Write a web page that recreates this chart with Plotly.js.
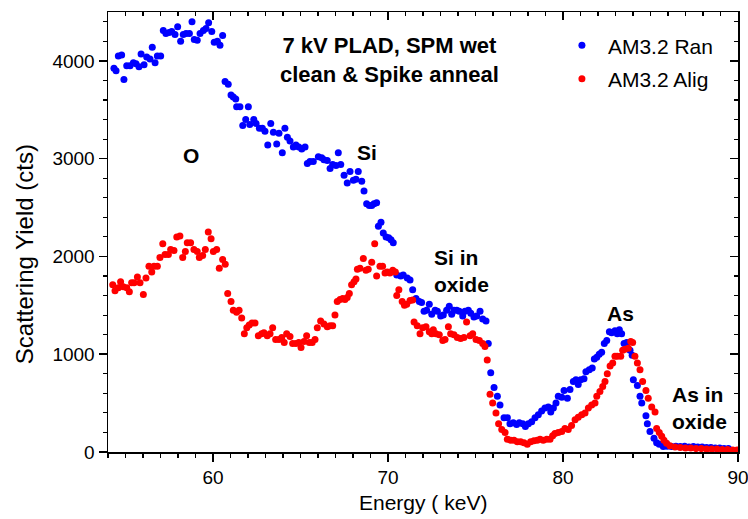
<!DOCTYPE html>
<html>
<head>
<meta charset="utf-8">
<script src="https://cdn.plot.ly/plotly-3.0.1.min.js"></script>
<style>html,body{margin:0;padding:0;background:#fff;}#chart{width:748px;height:519px;}</style>
</head>
<body>
<div id="chart"></div>
<script>
// AM3.2 Ran (random) spectrum
var ranEnergy = [54.34,54.46,54.59,54.78,54.91,55.07,55.26,55.45,55.60,55.77,55.89,56.06,56.21,56.40,56.53,56.69,56.82,57.01,57.16,57.31,57.49,57.64,57.83,57.98,58.15,58.30,58.46,58.65,58.80,58.93,59.10,59.26,59.45,59.60,59.75,59.93,60.07,60.25,60.40,60.55,60.69,60.87,61.03,61.16,61.30,61.35,61.54,61.70,61.87,62.02,62.10,62.33,62.46,62.65,62.82,62.97,63.13,63.30,63.45,63.64,63.77,63.96,64.11,64.25,64.40,64.59,64.74,64.90,65.07,65.26,65.39,65.54,65.73,66.02,66.21,66.34,66.53,66.69,66.84,67.03,67.16,67.30,67.49,67.67,67.83,68.02,68.17,68.30,68.50,68.63,68.78,68.93,69.07,69.20,69.35,69.45,69.60,69.73,69.89,70.04,70.17,70.30,70.50,70.73,70.87,71.10,71.26,71.41,71.60,71.79,71.92,72.06,72.21,72.36,72.50,72.69,72.82,73.01,73.16,73.35,73.50,73.64,73.77,73.93,74.07,74.27,74.40,74.59,74.73,74.91,75.07,75.26,75.41,75.60,75.73,75.87,76.06,76.25,76.40,76.63,76.82,76.97,77.16,77.35,77.50,77.70,77.85,78.02,78.21,78.40,78.59,78.78,78.97,79.16,79.30,79.45,79.60,79.73,79.93,80.06,80.25,80.40,80.59,80.74,80.87,81.01,81.20,81.31,81.50,81.67,81.79,81.93,82.07,82.21,82.36,82.50,82.65,82.78,82.97,83.10,83.22,83.35,83.49,83.64,83.83,83.95,84.02,84.25,84.40,84.50,84.74,84.82,84.97,85.20,85.35,85.50,85.73,85.95,86.20,86.45,86.70,86.95,87.20,87.45,87.70,87.95,88.20,88.45,88.70,88.95,89.20,89.45,89.70,89.95];
var ranCounts = [3925,3900,4050,4060,3810,3950,3950,3980,3970,3940,4070,3960,4040,4020,4140,3980,4050,4050,4310,4280,4290,4300,4270,4350,4200,4270,4280,4280,4400,4220,4210,4280,4310,4330,4390,4300,4190,4200,4160,4260,3790,3760,3650,3630,3610,3530,3530,3340,3400,3530,3350,3400,3360,3310,3310,3280,3140,3360,3270,3150,3260,3060,3310,3220,3180,3120,3140,3120,3100,3120,2950,2970,2970,3020,3010,2990,2980,2900,2940,2930,3060,2940,2830,2750,2870,2780,2790,2870,2770,2670,2540,2520,2520,2540,2550,2310,2350,2240,2200,2190,2170,2140,1810,1800,1810,1780,1760,1660,1570,1540,1530,1440,1450,1510,1410,1450,1440,1390,1400,1450,1490,1410,1450,1450,1440,1390,1440,1450,1420,1380,1390,1440,1360,1340,1110,810,660,570,480,350,350,290,300,280,300,290,260,290,310,350,380,420,450,460,410,450,500,570,560,630,550,640,720,740,690,740,750,820,840,860,950,970,1000,1020,1110,1140,1230,1220,1240,1210,1250,1210,1110,1120,1040,990,740,680,570,500,370,290,210,140,95,80,55,60,55,60,55,60,50,55,50,50,45,45,40,40,35,35];

// AM3.2 Alig (aligned) spectrum
var aligEnergy = [54.27,54.40,54.59,54.72,54.87,55.07,55.22,55.35,55.49,55.68,55.83,56.02,56.17,56.34,56.50,56.63,56.82,56.97,57.13,57.26,57.45,57.58,57.77,57.93,58.11,58.27,58.42,58.53,58.72,58.91,59.10,59.22,59.41,59.56,59.73,59.89,60.02,60.21,60.36,60.55,60.70,60.84,61.03,61.16,61.35,61.49,61.64,61.79,61.93,62.07,62.23,62.40,62.59,62.78,62.91,63.10,63.26,63.41,63.58,63.77,63.93,64.07,64.21,64.40,64.55,64.74,64.90,65.03,65.20,65.35,65.50,65.67,65.83,65.96,66.15,66.34,66.53,66.69,66.84,66.97,67.10,67.26,67.41,67.54,67.67,67.79,67.92,68.06,68.17,68.25,68.40,68.59,68.74,68.87,69.07,69.24,69.35,69.54,69.69,69.83,69.96,70.11,70.27,70.42,70.50,70.62,70.81,70.94,71.07,71.26,71.41,71.49,71.67,71.83,71.98,72.17,72.36,72.50,72.59,72.74,72.93,73.13,73.26,73.45,73.58,73.77,73.96,74.15,74.34,74.49,74.69,74.84,75.03,75.22,75.41,75.54,75.67,75.83,75.98,76.17,76.32,76.50,76.69,76.82,77.01,77.20,77.39,77.58,77.77,77.96,78.15,78.34,78.53,78.69,78.87,79.07,79.26,79.41,79.54,79.73,79.93,80.11,80.30,80.49,80.69,80.87,81.07,81.26,81.45,81.64,81.83,81.93,82.11,82.27,82.40,82.53,82.69,82.84,82.97,83.10,83.30,83.41,83.54,83.73,83.87,83.98,84.11,84.25,84.40,84.55,84.74,84.87,85.07,85.26,85.35,85.50,85.64,85.77,85.92,86.11,86.40,86.70,87.00,87.30,87.60,87.90,88.20,88.50,88.80,89.10,89.40,89.70,89.95];
var aligCounts = [1710,1650,1680,1740,1690,1680,1640,1730,1730,1790,1730,1610,1780,1900,1840,1900,1900,1990,2130,2020,2020,2070,2060,2200,2210,1990,2050,2140,2140,2070,2050,1990,2010,2070,2250,2180,2050,2070,1880,1970,1920,1620,1540,1450,1430,1450,1370,1210,1270,1300,1320,1320,1190,1210,1220,1190,1210,1270,1150,1150,1170,1120,1210,1180,1110,1110,1120,1070,1130,1190,1120,1120,1150,1270,1340,1310,1280,1290,1290,1400,1540,1560,1570,1560,1580,1620,1710,1740,1770,1870,1880,1980,1860,1870,1940,2130,1800,1900,1900,1830,1840,1830,1860,1840,1600,1660,1540,1500,1510,1550,1555,1330,1290,1210,1270,1280,1230,1210,1250,1210,1200,1140,1150,1280,1210,1200,1170,1160,1170,1330,1190,1210,1150,1140,1110,1080,940,590,500,400,290,230,200,130,120,120,105,105,95,80,105,115,120,130,120,130,130,165,190,200,210,240,230,270,330,355,380,400,450,480,500,570,620,670,720,800,880,910,980,980,980,1040,1050,1060,1130,1120,980,910,840,720,630,550,460,410,240,200,160,120,90,65,50,45,40,40,35,35,30,30,30,25,25,20,20];

var seriesNames = ["AM3.2 Ran", "AM3.2 Alig"];
var seriesColors = ["#0000ff", "#ff0000"];

var FONT = "Liberation Sans, Arial, sans-serif";

var traces = [
  {x: ranEnergy, y: ranCounts, type: "scatter", mode: "markers", name: seriesNames[0],
   marker: {color: seriesColors[0], size: 7}, legendgroup: "a"},
  {x: aligEnergy, y: aligCounts, type: "scatter", mode: "markers", name: seriesNames[1],
   marker: {color: seriesColors[1], size: 7}, legendgroup: "b"},
  {x: [], y: [], xaxis: "x2", yaxis: "y2", showlegend: false, type: "scatter", mode: "markers"}
];

var axisCommon = {showgrid: false, zeroline: false, showline: true, linecolor: "#000", linewidth: 1.5,
  tickcolor: "#000", tickwidth: 1.5, ticklabeloverflow: "allow",
  tickfont: {family: FONT, size: 19, color: "#000"}};

var layout = {
  width: 748, height: 519,
  margin: {l: 108, r: 10, t: 12, b: 67},
  paper_bgcolor: "#fff", plot_bgcolor: "#fff",
  font: {family: FONT, color: "#000"},
  showlegend: true,
  legend: {x: 0.711, y: 0.97, xanchor: "left", yanchor: "top", bgcolor: "rgba(0,0,0,0)",
    itemwidth: 42,
    font: {family: FONT, size: 21, color: "#000"}, traceorder: "grouped", tracegroupgap: 3},
  xaxis: Object.assign({}, axisCommon, {range: [54, 90], autorange: false, dtick: 10, tick0: 0, ticks: "outside", ticklen: 8,
    minor: {dtick: 1, ticks: "outside", ticklen: 4, tickcolor: "#000", tickwidth: 1.2}}),
  yaxis: Object.assign({}, axisCommon, {range: [0, 4500], autorange: false, dtick: 1000, tick0: 0, ticks: "outside", ticklen: 8,
    minor: {dtick: 200, ticks: "outside", ticklen: 4, tickcolor: "#000", tickwidth: 1.2}}),
  xaxis2: Object.assign({}, axisCommon, {overlaying: "x", side: "top", matches: "x", anchor: "y2",
    ticks: "inside", ticklen: 8, dtick: 10, tick0: 0, showticklabels: false,
    minor: {dtick: 1, ticks: "inside", ticklen: 4, tickcolor: "#000", tickwidth: 1.2}}),
  yaxis2: Object.assign({}, axisCommon, {overlaying: "y", side: "right", matches: "y", anchor: "x2",
    ticks: "inside", ticklen: 8, dtick: 1000, tick0: 0, showticklabels: false,
    minor: {dtick: 200, ticks: "inside", ticklen: 4, tickcolor: "#000", tickwidth: 1.2}}),
  annotations: [
    {x: 0.5, y: -0.114, xref: "paper", yref: "paper", xanchor: "center", yanchor: "middle",
     text: "Energy ( keV)", showarrow: false, font: {family: FONT, size: 21, color: "#000"}},
    {x: -0.133, y: 0.45, xref: "paper", yref: "paper", xanchor: "center", yanchor: "middle",
     text: "Scattering Yield (cts)", showarrow: false, textangle: -90, font: {family: FONT, size: 24, color: "#000"}},
    {x: 70.1, y: 4010, xref: "x", yref: "y", text: "<b>7 kV PLAD, SPM wet<br>clean &amp; Spike anneal</b>", showarrow: false,
     font: {family: FONT, size: 22, color: "#000"}, align: "center"},
    {x: 58.74, y: 3028, xref: "x", yref: "y", text: "<b>O</b>", showarrow: false, font: {family: FONT, size: 21, color: "#000"}},
    {x: 68.78, y: 3066, xref: "x", yref: "y", text: "<b>Si</b>", showarrow: false, font: {family: FONT, size: 21, color: "#000"}},
    {x: 74.2, y: 1852, xref: "x", yref: "y", text: "<b>Si in<br>oxide</b>", showarrow: false, font: {family: FONT, size: 21, color: "#000"}, align: "left"},
    {x: 83.29, y: 1412, xref: "x", yref: "y", text: "<b>As</b>", showarrow: false, font: {family: FONT, size: 21, color: "#000"}},
    {x: 87.8, y: 455, xref: "x", yref: "y", text: "<b>As in<br>oxide</b>", showarrow: false, font: {family: FONT, size: 21, color: "#000"}, align: "left"}
  ]
};

Plotly.newPlot("chart", traces, layout, {displayModeBar: false, staticPlot: true});
</script>
</body>
</html>
